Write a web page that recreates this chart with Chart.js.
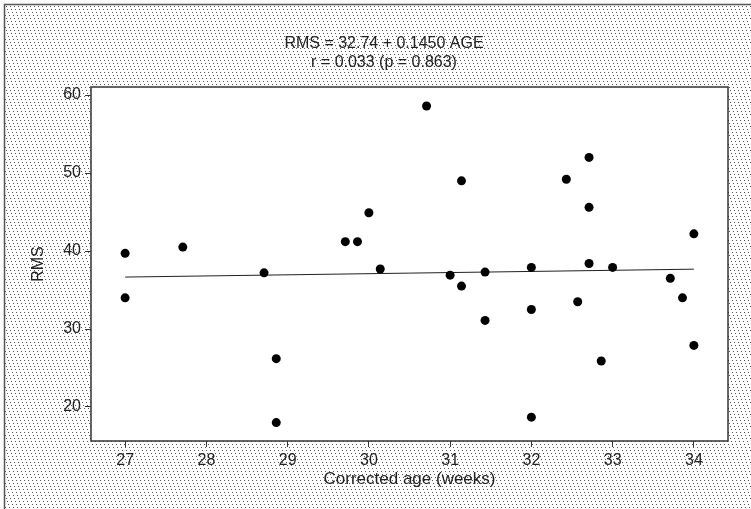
<!DOCTYPE html>
<html>
<head>
<meta charset="utf-8">
<script src="https://cdn.jsdelivr.net/npm/chart.js@4/dist/chart.umd.min.js"></script>
<style>
  html, body { margin: 0; padding: 0; background: #fff; }
  #wrap { width: 751px; height: 509px; }
</style>
</head>
<body>
<div id="wrap"><canvas id="rmsChart" width="751" height="509"></canvas></div>
<script>
// corrected age (weeks) and RMS of each subject
const ageWeeks = [27, 27, 27.71, 28.71, 28.86, 28.86, 29.71, 29.86, 30.0, 30.14,
                  30.71, 31.14, 31.0, 31.14, 31.43, 31.43, 32.0, 32.0, 32.0, 32.43,
                  32.71, 32.71, 32.71, 32.57, 32.86, 33.0, 33.71, 33.86, 34.0, 34.0];
const rmsValues = [39.7, 34.0, 40.5, 37.2, 26.2, 18.0, 41.2, 41.2, 44.9, 37.7,
                   58.6, 49.0, 36.9, 35.5, 37.3, 31.1, 37.9, 32.5, 18.7, 49.2,
                   52.0, 45.6, 38.4, 33.5, 25.9, 37.9, 36.5, 34.0, 42.2, 27.9];

// regression line end points
const fitAge = [27, 34];
const fitRms = [36.66, 37.67];

const xTickValues = [27, 28, 29, 30, 31, 32, 33, 34];
const yTickValues = [20, 30, 40, 50, 60];
const titleLines = ['RMS = 32.74 + 0.1450 AGE', 'r = 0.033 (p = 0.863)'];

const FONT = '"Liberation Sans", Arial, sans-serif';
const INK = '#222';

function makeDots() {
    const tile = document.createElement('canvas');
    tile.width = 4;
    tile.height = 12;
    const t = tile.getContext('2d');
    t.fillStyle = '#555';
    for (let i = 0; i < 4; i++) {
        t.fillRect(i, i * 3, 1, 1);
    }
    return tile;
}

const backdrop = {
    id: 'backdrop',
    beforeDraw(chart) {
        const { ctx, chartArea: a, width, height } = chart;
        ctx.save();
        ctx.fillStyle = '#fff';
        ctx.fillRect(0, 0, width, height);
        ctx.fillStyle = ctx.createPattern(makeDots(), 'repeat');
        ctx.fillRect(5, 5, width - 5, height - 5);
        ctx.fillStyle = '#fff';
        ctx.fillRect(a.left, a.top, a.right - a.left, a.bottom - a.top);
        ctx.restore();
    },
    afterDraw(chart) {
        const { ctx, chartArea: a, width, height } = chart;
        ctx.save();
        ctx.strokeStyle = '#333';
        ctx.lineWidth = 1.5;
        ctx.strokeRect(a.left, a.top, a.right - a.left, a.bottom - a.top);

        ctx.strokeStyle = '#555';
        ctx.lineWidth = 1.5;
        ctx.beginPath();
        ctx.moveTo(4.5, height);
        ctx.lineTo(4.5, 4.5);
        ctx.lineTo(width, 4.5);
        ctx.stroke();

        ctx.fillStyle = INK;
        ctx.font = '16px ' + FONT;
        ctx.textAlign = 'center';
        ctx.textBaseline = 'middle';
        ctx.fillText(titleLines[0], 384, 44);
        ctx.fillText(titleLines[1], 384, 63);
        ctx.restore();
    }
};

const points = ageWeeks.map((x, i) => ({ x: x, y: rmsValues[i] }));
const fitLine = fitAge.map((x, i) => ({ x: x, y: fitRms[i] }));

new Chart(document.getElementById('rmsChart'), {
    type: 'scatter',
    data: {
        datasets: [{
            label: 'RMS',
            data: points,
            backgroundColor: '#000',
            borderWidth: 0,
            pointRadius: 4.5
        }, {
            type: 'line',
            label: 'Fit',
            data: fitLine,
            borderColor: '#222',
            borderWidth: 1,
            pointRadius: 0,
            fill: false
        }]
    },
    options: {
        responsive: false,
        devicePixelRatio: 1,
        animation: false,
        layout: { padding: { top: 87, right: 23, left: 0, bottom: 0 } },
        plugins: {
            legend: { display: false },
            tooltip: { enabled: false }
        },
        scales: {
            x: {
                type: 'linear',
                min: 26.58,
                max: 34.42,
                afterFit: function(scale) { scale.height = 68; },
                afterBuildTicks: function(scale) {
                    scale.ticks = xTickValues.map(v => ({ value: v }));
                },
                border: { display: false },
                grid: {
                    drawOnChartArea: false,
                    tickLength: 6,
                    color: '#333'
                },
                ticks: {
                    padding: 4,
                    color: INK,
                    font: { family: FONT, size: 16 }
                },
                title: {
                    display: true,
                    text: 'Corrected age (weeks)',
                    color: INK,
                    font: { family: FONT, size: 17 },
                    padding: { top: 0, bottom: 19 }
                }
            },
            y: {
                type: 'linear',
                min: 15.64,
                max: 61.03,
                afterFit: function(scale) { scale.width = 91; },
                afterBuildTicks: function(scale) {
                    scale.ticks = yTickValues.map(v => ({ value: v }));
                },
                border: { display: false },
                grid: {
                    drawOnChartArea: false,
                    tickLength: 6,
                    color: '#333'
                },
                ticks: {
                    padding: 4,
                    color: INK,
                    font: { family: FONT, size: 16 }
                },
                title: {
                    display: true,
                    text: 'RMS',
                    color: INK,
                    font: { family: FONT, size: 16 },
                    padding: { top: 29, bottom: 0 }
                }
            }
        }
    },
    plugins: [backdrop]
});
</script>
</body>
</html>
